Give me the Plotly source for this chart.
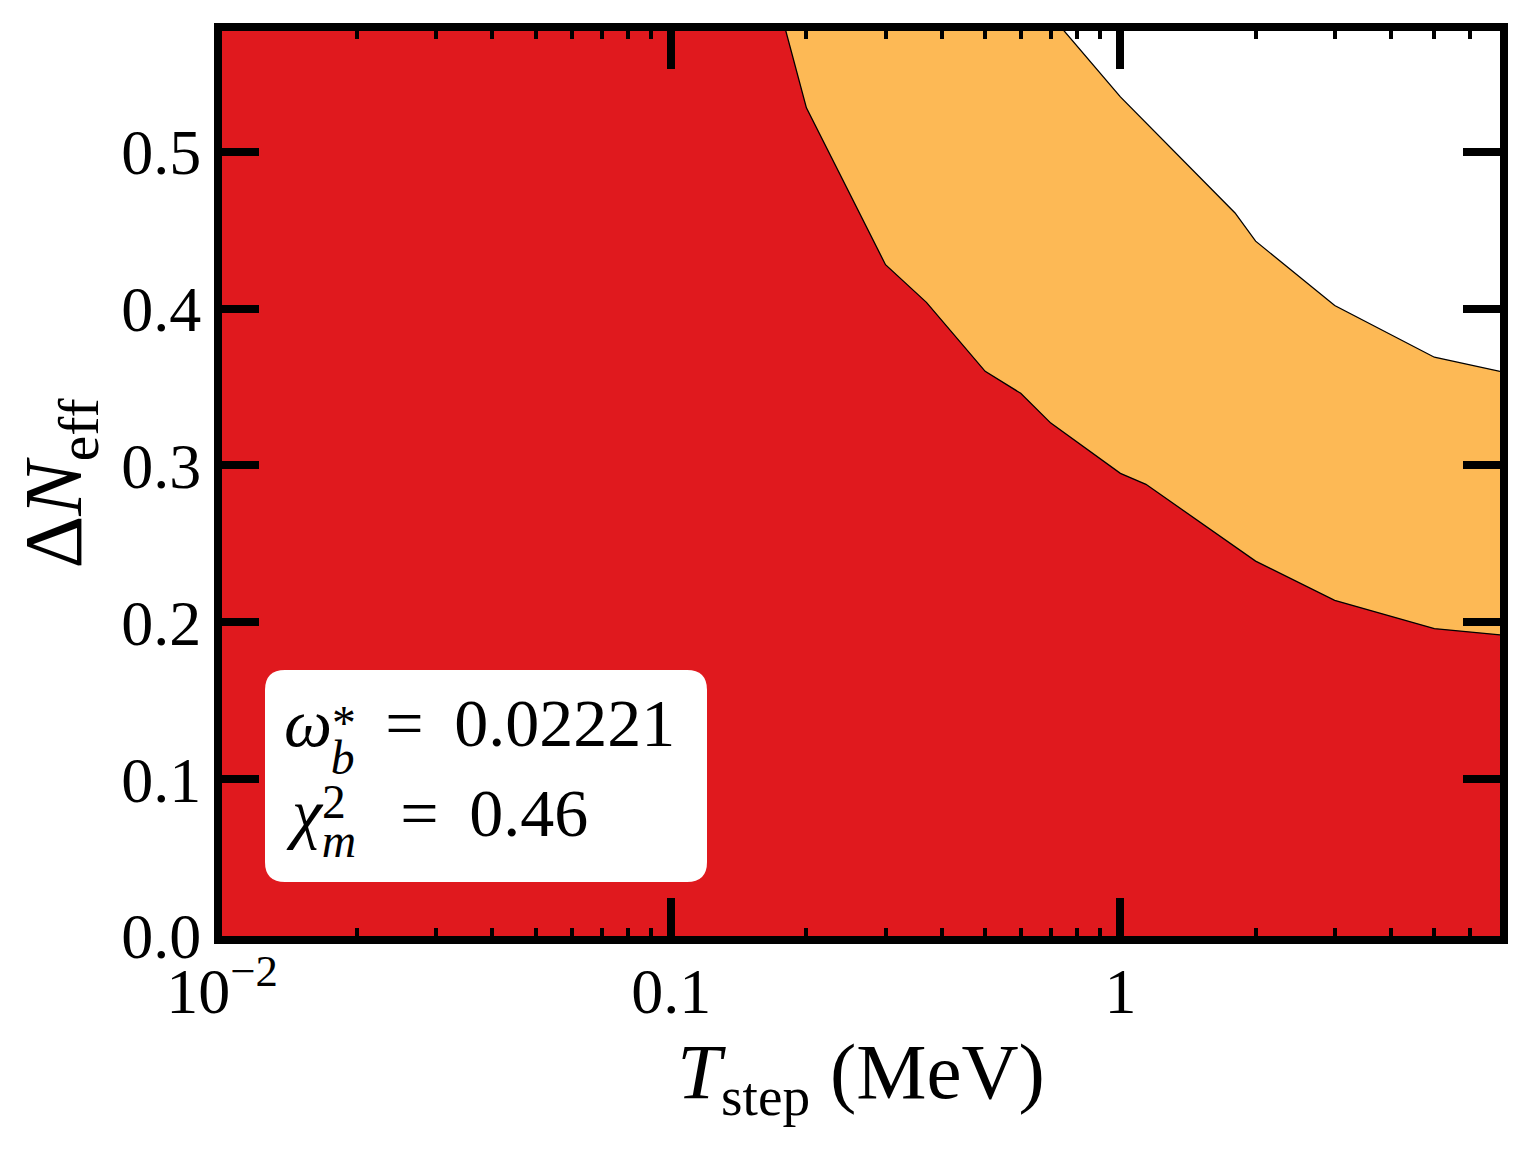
import numpy as np
import plotly.graph_objects as go

# ---------------- data ----------------
# upper edge of the red (inner) region
red_T = [0.01, 0.1, 0.2, 0.3, 0.37, 0.5, 0.6, 0.7, 1.0, 1.14, 2.0, 3.0, 5.0, 7.0]
red_dN = [1.5, 0.85, 0.528, 0.428, 0.404, 0.360, 0.346, 0.327, 0.295, 0.288, 0.239, 0.214, 0.196, 0.192]

# upper edge of the orange (outer) region
orange_T = [0.01, 0.1, 0.7, 1.0, 1.8, 2.0, 3.0, 5.0, 7.0]
orange_dN = [1.6, 1.1, 0.587, 0.535, 0.461, 0.443, 0.402, 0.369, 0.360]

x_tickvals = [0.01, 0.1, 1]
x_ticktext = ["10<sup>−2</sup>", "0.1", "1"]
x_minor = [0.02, 0.03, 0.04, 0.05, 0.06, 0.07, 0.08, 0.09,
           0.2, 0.3, 0.4, 0.5, 0.6, 0.7, 0.8, 0.9,
           2, 3, 4, 5, 6, 7]
y_tickvals = [0.0, 0.1, 0.2, 0.3, 0.4, 0.5]

omega_b = "0.02221"
chi2_m = "0.46"

RED = "#E0191E"
ORANGE = "#FDB955"
FONT = "Liberation Serif"

O = 8                      # page body margin offset
W, H = 1514, 1149
L, R, T, B = 222 - O, 1500 - O, 31 - O, 936 - O   # plot area in figure pixels


def px(x, y):
    """reference-page pixel -> paper coords"""
    return (x - O - L) / (R - L), (B - (y - O)) / (B - T)


fig = go.Figure()
fig.add_trace(go.Scatter(x=orange_T, y=orange_dN, mode="lines", fill="tozeroy",
                         fillcolor=ORANGE, line=dict(color="black", width=1.3),
                         hoverinfo="skip", showlegend=False))
fig.add_trace(go.Scatter(x=red_T, y=red_dN, mode="lines", fill="tozeroy",
                         fillcolor=RED, line=dict(color="black", width=1.3),
                         hoverinfo="skip", showlegend=False))

# rounded white box
bx0, by0 = px(265, 882)
bx1, by1 = px(707, 670)
rx, ry = 20 / (R - L), 20 / (B - T)
path = (f"M {bx0+rx},{by0} L {bx1-rx},{by0} Q {bx1},{by0} {bx1},{by0+ry} "
        f"L {bx1},{by1-ry} Q {bx1},{by1} {bx1-rx},{by1} L {bx0+rx},{by1} "
        f"Q {bx0},{by1} {bx0},{by1-ry} L {bx0},{by0+ry} Q {bx0},{by0} {bx0+rx},{by0} Z")
fig.add_shape(type="path", path=path, xref="paper", yref="paper",
              fillcolor="white", line=dict(width=0), layer="above")

BIG = 68
line1 = ("<i>ω</i><sup><span style='letter-spacing:-25px;baseline-shift:-22px'>*</span></sup>"
         f"<sub><span style='baseline-shift:-14px'><i>b</i></span></sub>"
         f"\u00a0\u2009=\u00a0\u2009{omega_b}")
line2 = ("<i>χ</i><sup><span style='letter-spacing:-24px;baseline-shift:-11px'>2</span></sup>"
         f"<sub><span style='baseline-shift:-7px'><i>m</i></span></sub>"
         f"\u00a0\u2009\u2009=\u00a0\u2009{chi2_m}")
for txt, x, y in [(line1, 283, 734), (line2, 285, 821)]:
    xp, yp = px(x, y)
    fig.add_annotation(text=txt, x=xp, y=yp, xref="paper", yref="paper",
                       xanchor="left", yanchor="middle", showarrow=False,
                       borderpad=0,
                       font=dict(family=FONT, size=BIG, color="black"))

axis_common = dict(showline=True, linewidth=8, linecolor="black", mirror="allticks",
                   ticks="inside", tickcolor="black", showgrid=False, zeroline=False,
                   tickfont=dict(family=FONT, size=64, color="black"))

fig.update_xaxes(type="log", range=[np.log10(0.01), np.log10(7.0)],
                 tickvals=x_tickvals, ticktext=x_ticktext, ticklen=38, tickwidth=8,
                 ticklabelstandoff=-8,
                 minor=dict(tickvals=x_minor, ticks="inside", ticklen=8, tickwidth=3.5,
                            tickcolor="black", showgrid=False),
                 title=dict(text="<i>T</i><sub>step</sub> (MeV)",
                            font=dict(family=FONT, size=79, color="black"), standoff=20),
                 **axis_common)
fig.update_yaxes(range=[0, 0.577], tickvals=y_tickvals, tickformat=".1f",
                 ticklen=37, tickwidth=8,
                 title=dict(text="Δ<i>N</i><sub>eff</sub>",
                            font=dict(family=FONT, size=82, color="black"), standoff=20),
                 **axis_common)

fig.update_layout(width=W, height=H, margin=dict(l=L, r=W - R, t=T, b=H - B),
                  paper_bgcolor="white", plot_bgcolor="white")

fig.write_html("out.html")
